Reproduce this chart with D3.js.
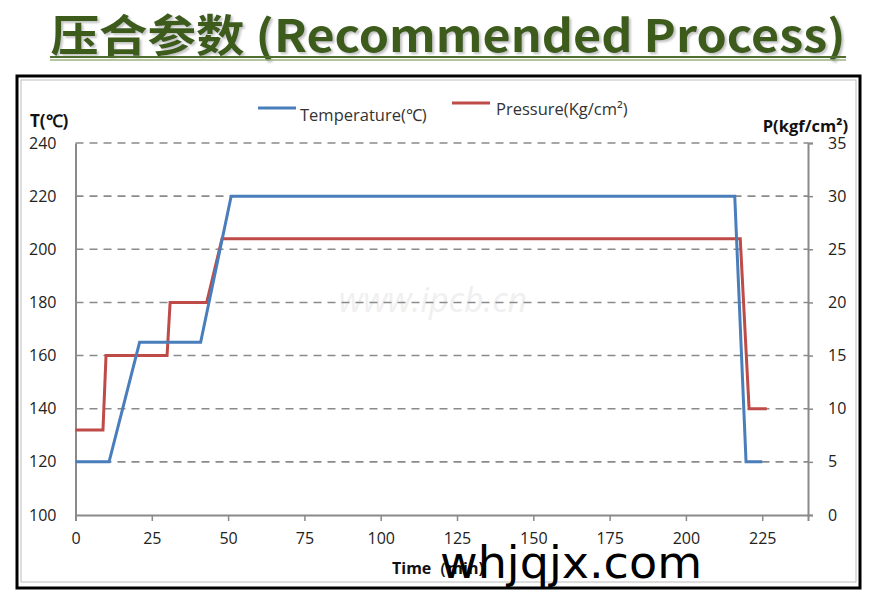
<!DOCTYPE html>
<html><head><meta charset="utf-8">
<script src="https://cdn.jsdelivr.net/npm/d3@7"></script>
<style>body{margin:0;background:#fff}svg{display:block}</style>
</head><body>
<script>
const tempTime = [0, 11, 21, 41, 51, 216, 219.7, 225];
const tempValues = [120, 120, 165, 165, 220, 220, 120, 120];
const presTime = [0, 9, 10, 30, 31, 43, 48, 217.8, 220.7, 226.5];
const presValues = [8, 8, 15, 15, 20, 20, 26, 26, 10, 10];
const xTicks = [0, 25, 50, 75, 100, 125, 150, 175, 200, 225];
const tTicks = [100, 120, 140, 160, 180, 200, 220, 240];
const pTicks = [0, 5, 10, 15, 20, 25, 30, 35];

const W = 876, H = 606;
const svg = d3.select("body").append("svg").attr("width", W).attr("height", H);
const font = "'Open Sans', 'Liberation Sans', sans-serif";

const defs = svg.append("defs");
const f = defs.append("filter").attr("id", "sh").attr("x", "-5%").attr("y", "-20%").attr("width", "110%").attr("height", "140%");
f.append("feDropShadow").attr("dx", 2).attr("dy", 2).attr("stdDeviation", 0.8).attr("flood-color", "#999").attr("flood-opacity", 0.6);

// Title
svg.append("text").attr("x", 448).attr("y", 52).attr("text-anchor", "middle")
  .attr("font-family", "'Noto Sans CJK SC', 'Open Sans', sans-serif").attr("font-weight", "bold")
  .attr("font-size", 44).attr("fill", "#3c5c1c").attr("filter", "url(#sh)")
  .attr("textLength", 795).attr("lengthAdjust", "spacingAndGlyphs")
  .text("压合参数 (Recommended Process)");
svg.append("line").attr("x1", 50).attr("x2", 846).attr("y1", 57).attr("y2", 57).attr("stroke", "#4f6f2e").attr("stroke-width", 2);
svg.append("line").attr("x1", 50).attr("x2", 846).attr("y1", 60).attr("y2", 60).attr("stroke", "#9cb083").attr("stroke-width", 1.5);

// Frame
svg.append("rect").attr("x", 17).attr("y", 76).attr("width", 843).attr("height", 512)
  .attr("fill", "#fff").attr("stroke", "#000").attr("stroke-width", 3);
svg.append("rect").attr("x", 21).attr("y", 80).attr("width", 835).attr("height", 502)
  .attr("fill", "none").attr("stroke", "#bdbdbd").attr("stroke-width", 1);

const x = d3.scaleLinear().domain([0, 240]).range([75.5, 808]);
const yT = d3.scaleLinear().domain([100, 240]).range([515, 143]);
const yP = d3.scaleLinear().domain([0, 35]).range([515, 143]);

// watermark
svg.append("text").attr("x", 433).attr("y", 312).attr("text-anchor", "middle")
  .attr("font-family", font).attr("font-style", "italic").attr("font-size", 34)
  .attr("fill", "#f0f0f0").text("www.ipcb.cn");

// gridlines
svg.append("g").selectAll("line").data(tTicks.filter(d => d > 100)).join("line")
  .attr("x1", x(0)).attr("x2", x(240)).attr("y1", d => yT(d)).attr("y2", d => yT(d))
  .attr("stroke", "#8a8a8a").attr("stroke-width", 1.6).attr("stroke-dasharray", "8,6");

// axes
const axisColor = "#8a8a8a";
const gx = svg.append("g").attr("transform", `translate(0,${yT(100)})`)
  .call(d3.axisBottom(x).tickValues(xTicks).tickSize(6).tickPadding(12));
const gl = svg.append("g").attr("transform", `translate(${x(0)},0)`)
  .call(d3.axisLeft(yT).tickValues(tTicks).tickSize(0).tickPadding(19));
const gr = svg.append("g").attr("transform", `translate(${x(240)},0)`)
  .call(d3.axisRight(yP).tickValues(pTicks).tickSize(5).tickPadding(15));
[gx, gl, gr].forEach(g => {
  g.select(".domain").attr("stroke", axisColor).attr("stroke-width", 2);
  g.selectAll(".tick line").attr("stroke", axisColor).attr("stroke-width", 1.5);
  g.selectAll("text").attr("font-family", font).attr("font-size", 16).attr("fill", "#222");
});
gx.selectAll(".tick line").attr("y1", 0);

// series
const tData = tempTime.map((t, i) => [t, tempValues[i]]);
const pData = presTime.map((t, i) => [t, presValues[i]]);
svg.append("path").datum(pData).attr("fill", "none").attr("stroke", "#be4b48").attr("stroke-width", 3)
  .attr("d", d3.line().x(d => x(d[0])).y(d => yP(d[1])));
svg.append("path").datum(tData).attr("fill", "none").attr("stroke", "#4a7ebb").attr("stroke-width", 3)
  .attr("d", d3.line().x(d => x(d[0])).y(d => yT(d[1])));

// axis titles
svg.append("text").attr("x", 30).attr("y", 127).attr("font-family", font).attr("font-weight", "bold")
  .attr("font-size", 17).attr("fill", "#111").text("T(℃)");
svg.append("text").attr("x", 848).attr("y", 132).attr("text-anchor", "end").attr("font-family", font).attr("font-weight", "bold")
  .attr("font-size", 16.5).attr("fill", "#111").text("P(kgf/cm²)");
svg.append("text").attr("x", 392).attr("y", 574).attr("font-family", font).attr("font-weight", "bold")
  .attr("font-size", 16).attr("fill", "#111").text("Time（min)");

// legend
svg.append("line").attr("x1", 258).attr("x2", 296).attr("y1", 108).attr("y2", 108).attr("stroke", "#4a7ebb").attr("stroke-width", 3);
svg.append("text").attr("x", 300).attr("y", 121).attr("font-family", font).attr("font-size", 16.5).attr("fill", "#333").text("Temperature(℃)");
svg.append("line").attr("x1", 452).attr("x2", 490).attr("y1", 103).attr("y2", 103).attr("stroke", "#be4b48").attr("stroke-width", 3);
svg.append("text").attr("x", 496).attr("y", 115).attr("font-family", font).attr("font-size", 16.5).attr("fill", "#333").text("Pressure(Kg/cm²)");

// overlay watermark
svg.append("text").attr("x", 440).attr("y", 578).attr("font-family", "'DejaVu Sans', sans-serif")
  .attr("font-size", 45).attr("fill", "#000").attr("textLength", 262).attr("lengthAdjust", "spacingAndGlyphs").text("whjqjx.com");
</script>
</body></html>
